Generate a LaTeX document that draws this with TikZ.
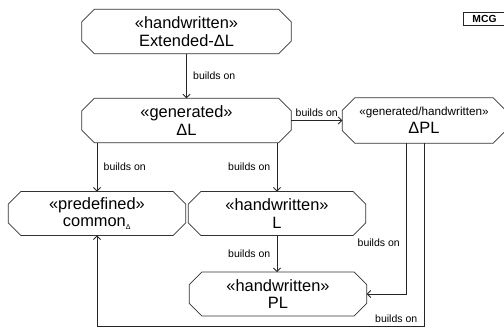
\documentclass[tikz,border=0pt]{standalone}
\usepackage{fontspec}
\setmainfont{Liberation Sans}
\usetikzlibrary{arrows.meta}
\begin{document}
\begin{tikzpicture}[
    x=1pt, y=-1pt,
    node distance=1cm,
    box/.style={rectangle, align=center, inner sep=0pt, font=\fontsize{16.4}{17.5}\selectfont},
    wide/.style={box, minimum width=209pt, minimum height=44pt},
    narrow/.style={box, minimum width=177pt, minimum height=43.5pt},
    outline/.style={draw=black!80, line width=0.8pt},
    tag/.style={font=\fontsize{10.5}{12}\selectfont},
    arrow/.style={draw=black!85, line width=0.8pt, -{Straight Barb[length=3.5pt,width=7pt]}}
]
    \useasboundingbox (0,0) rectangle (504,329);

    % Upper row
    \node [wide] (ext) at (186.5,31.5) {«handwritten»\\Extended-ΔL};
    \node [wide, node distance=89pt, below of=ext] (dl) {«generated»\\ΔL};
    \node [box, minimum width=163pt, minimum height=45pt, node distance=237.5pt, right of=dl] (dpl) {{\fontsize{11.7}{13}\selectfont «generated/handwritten»}\\ΔPL};

    % Lower rows
    \node [narrow, node distance=93pt, below of=dl, xshift=-89.5pt] (common) {«predefined»\\common\textsubscript{\fontsize{7}{8}\selectfont Δ}};
    \node [narrow, node distance=180pt, right of=common] (hl) {«handwritten»\\L};
    \node [narrow, node distance=80.5pt, below of=hl, xshift=1pt] (pl) {«handwritten»\\PL};

    % Chamfered outlines
    \foreach \n in {ext,dl,dpl,common,hl,pl}
        \draw [outline] ([xshift=12.5pt]\n.north west) -- ([xshift=-12.5pt]\n.north east)
            -- ([yshift=-12.5pt]\n.north east) -- ([yshift=12.5pt]\n.south east)
            -- ([xshift=-12.5pt]\n.south east) -- ([xshift=12.5pt]\n.south west)
            -- ([yshift=12.5pt]\n.south west) -- ([yshift=-12.5pt]\n.north west) -- cycle;

    % Tag
    \node [draw=black!85, line width=1pt, minimum width=43pt, minimum height=12.5pt, inner sep=0pt, font=\fontsize{10.3}{12}\selectfont\bfseries] (mcg) at (484.5,19) {MCG};

    % Arrows
    \coordinate (low) at (424,326);
    \draw [arrow] (ext.south) -- (ext.south |- dl.north) node [tag, midway, right=3pt] {builds on};
    \draw [arrow] (dl.east) -- (dpl.west) node [tag, midway, above] {builds on};
    \draw [arrow] (dl.south -| common.north) -- (common.north) node [tag, midway, right=3pt] {builds on};
    \draw [arrow] (dl.south -| hl.north) -- (hl.north) node [tag, midway, left=3pt] {builds on};
    \draw [arrow] (hl.south) -- (hl.south |- pl.north) node [tag, midway, left=3pt] {builds on};
    \draw [arrow] ([xshift=-17.5pt]dpl.south) |- node [tag, pos=0.33, left=3pt] {builds on} (pl.east);
    \draw [arrow] (dpl.south) -- (dpl.south |- low) -| node [tag, pos=0, above left, xshift=-3pt] {builds on} (common.south);
\end{tikzpicture}
\end{document}
